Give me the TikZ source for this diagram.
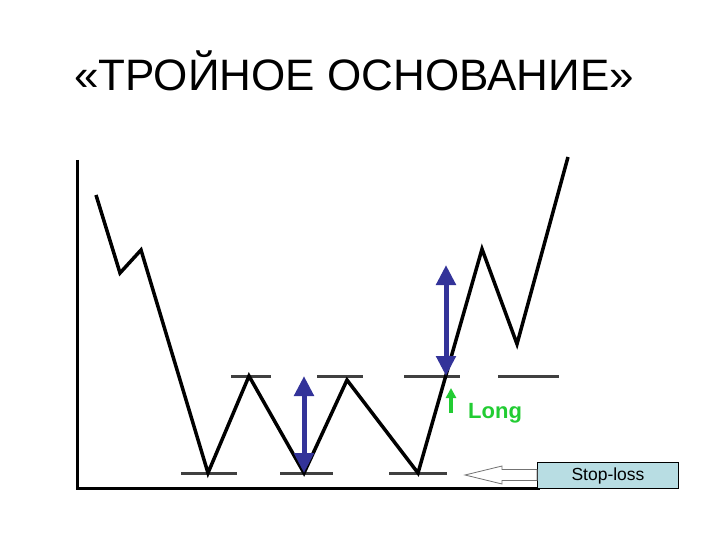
\documentclass[tikz,border=0pt]{standalone}
\usepackage{fontspec}
\setmainfont{Liberation Sans}
\usetikzlibrary{arrows.meta}
\definecolor{arrblue}{HTML}{333399}
\definecolor{longgreen}{HTML}{22CC33}
\definecolor{boxblue}{HTML}{B8DDE3}
\tikzset{
  axisline/.style={line width=3pt,black},
  price/.style={line width=3.5pt,black,line join=miter},
  level/.style={line width=3pt,black!75},
  dblarrow/.style={line width=5pt,arrblue,{Triangle[width=19pt,length=20pt]}-{Triangle[width=19pt,length=20pt]}},
  greenarrow/.style={line width=4.5pt,longgreen,-{Triangle[width=10pt,length=10pt]}},
  blockarrow/.style={draw=black!55,fill=white,line width=0.8pt,line join=miter},
}
\begin{document}
\begin{tikzpicture}[x=1pt,y=-1pt]
\useasboundingbox (0,0) rectangle (720,540);
\node[font=\fontsize{44}{48}\selectfont,anchor=center] (title) at (354,71) {«ТРОЙНОЕ ОСНОВАНИЕ»};
% axes
\coordinate (ytop) at (77,160);
\coordinate (orig) at (77,488);
\coordinate (xend) at (540,488);
\draw[axisline] (ytop) -- (orig) -- (xend);
% levels
\foreach \a/\b in {231/271,317/363,404/460,498/559}
  \draw[level] (\a,376) -- (\b,376);
\foreach \a/\b in {181/237,280/333,389/447}
  \draw[level] (\a,473) -- (\b,473);
% price
\coordinate (p1) at (96,195);
\coordinate (p2) at (120,273);
\coordinate (p3) at (141,250);
\coordinate (b1) at (208,473);
\coordinate (t1) at (249,376);
\coordinate (b2) at (304,473);
\coordinate (t2) at (347,380);
\coordinate (b3) at (418,473);
\coordinate (brk) at (446,376);
\coordinate (p4) at (482,249);
\coordinate (p5) at (517,344);
\coordinate (p6) at (568,157);
\draw[price] (p1) -- (p2) -- (p3) -- (b1) -- (t1) -- (b2) -- (t2) -- (b3) -- (p4) -- (p5) -- (p6);
% blue arrows
\coordinate (a1t) at (304,376);
\draw[dblarrow] (a1t) -- (b2);
\coordinate (a2t) at (446,265);
\draw[dblarrow] (a2t) -- (brk);
% green
\coordinate (g0) at (451,413);
\coordinate (g1) at (451,388);
\draw[greenarrow] (g0) -- (g1);
\node[font=\bfseries\fontsize{22}{24}\selectfont,text=longgreen,anchor=west,inner sep=0pt] (long) at (468,413) {Long};
% stop-loss
\node[draw=black,line width=1pt,fill=boxblue,minimum width=141pt,minimum height=26pt,inner sep=0pt,anchor=north west,font=\fontsize{17.5}{20}\selectfont] (stop) at (537,462) {Stop-loss};
\coordinate (stip) at (465,475);
\draw[blockarrow] (stip) -- (502,466) -- (502,469.5) -- (stop.west |- 0,469.5) -- (stop.west |- 0,480.5) -- (502,480.5) -- (502,484) -- cycle;
\end{tikzpicture}
\end{document}
